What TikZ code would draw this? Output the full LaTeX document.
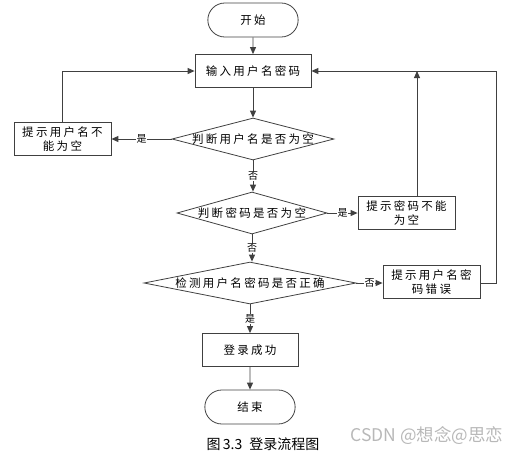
\documentclass[tikz,border=0pt]{standalone}
\usepackage{fontspec}
\setmainfont{Noto Sans CJK SC}
\newfontfamily\boxfont[LetterSpace=20]{Noto Sans CJK SC}
\usetikzlibrary{shapes.geometric,shapes.misc,arrows.meta}

\newcommand*{\dtext}[1]{\makebox[0pt]{#1}}

\begin{document}
\begin{tikzpicture}
[
	x=1pt,y=-1pt,
	line/.style={draw=black!75,line width=0.9pt},
	arr/.style={line,-{Triangle[length=7pt,width=6pt]}},
	termbox/.style={rounded rectangle,draw=black!75,line width=0.8pt,minimum width=97pt,minimum height=34pt,font=\boxfont\fontsize{11.5}{13}\selectfont},
	procbox/.style={rectangle,draw=black!75,line width=0.8pt,minimum width=97pt,minimum height=33pt,align=center,inner sep=1pt,font=\boxfont\fontsize{11.5}{14.5}\selectfont},
	decbox/.style={diamond,draw=black!75,line width=0.8pt,inner sep=0pt,font=\boxfont\fontsize{11.5}{13}\selectfont},
	lbl/.style={fill=white,inner sep=0.5pt,font=\fontsize{10}{11}\selectfont}
]

	\useasboundingbox (0,0) rectangle (523,456);

	% main column
	\node[termbox] at (253,20) (start) {开始};
	\node[procbox,minimum width=116pt] at (253,71) (input) {输入用户名密码};
	\node[decbox,minimum width=162pt,minimum height=42pt] at (253,139) (chkname) {\dtext{判断用户名是否为空}};
	\node[decbox,minimum width=150pt,minimum height=42pt] at (252,213) (chkpwd) {\dtext{判断密码是否为空}};
	\node[decbox,minimum width=212pt,minimum height=42pt] at (250,283) (chkboth) {\dtext{检测用户名密码是否正确}};
	\node[procbox,minimum width=96pt] at (250,350) (ok) {登录成功};
	\node[termbox] at (250,407) (stop) {结束};

	% message boxes
	\node[procbox] at (62.5,139) (msgname) {提示用户名不\\能为空};
	\node[procbox] at (406.5,213) (msgpwd) {提示密码不能\\为空};
	\node[procbox] at (431.5,282) (msgerr) {提示用户名密\\码错误};

	\coordinate (uppwd) at (417,71);
	\coordinate (uperr) at (496,71);

	% arrows
	\draw[arr] (start) -- (input);
	\draw[arr] (input) -- (chkname);
	\draw[arr] (chkname.south) -- node[lbl] {否} (chkname.south |- chkpwd.north);
	\draw[arr] (chkpwd.south) -- node[lbl] {否} (chkpwd.south |- chkboth.north);
	\draw[arr] (chkboth) -- node[lbl] {是} (ok);
	\draw[arr] (ok) -- (stop);

	\draw[arr] (chkname.west) -- node[lbl] {是} (msgname.east);
	\draw[arr] (chkpwd.east) -- node[lbl] {是} (msgpwd.west);
	\draw[arr] (chkboth.east) -- node[lbl] {否} (msgerr.west |- chkboth.east);

	\draw[arr] (msgname.north) |- (input.west);
	\draw[arr] (msgpwd.north -| uppwd) -- (uppwd);
	\draw[arr] (msgerr.east |- chkboth.east) -| (uperr) -- (input.east);

	% caption
	\node at (263,444) (caption) {\fontsize{14}{16}\selectfont 图\,3.3\enspace 登录流程图};
	\node[text=black!28] at (427,436) (mark) {\fontsize{17.5}{19}\selectfont CSDN @想念@思恋};

\end{tikzpicture}
\end{document}
